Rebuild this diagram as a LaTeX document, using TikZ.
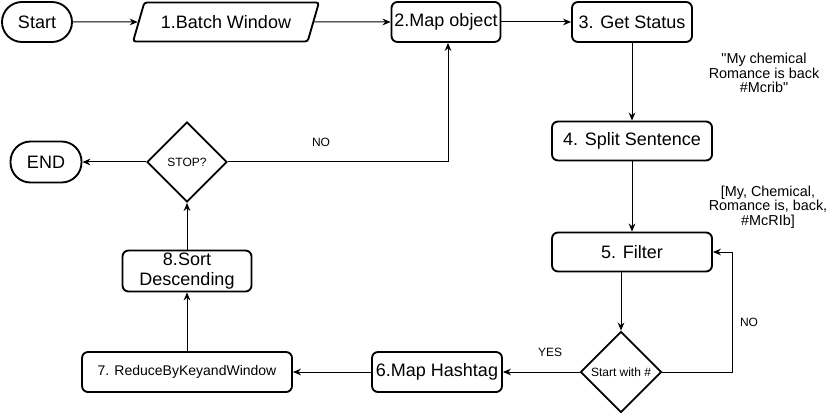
\documentclass[tikz,border=0pt]{standalone}
\usepackage{fontspec}
\setmainfont{Liberation Sans}[Ligatures=TeXOff]
\usetikzlibrary{shapes.geometric,arrows.meta}
\tikzset{
	box/.style={draw, line width=1.4pt, rounded corners=4.5pt, minimum height=30pt, inner sep=1pt, align=center, font=\fontsize{13.5}{15}\selectfont},
	term/.style={box, rounded corners=15pt},
	io/.style={box, trapezium, trapezium left angle=60, trapezium right angle=120, trapezium stretches=true, rounded corners=2pt},
	dec/.style={draw, line width=1.4pt, diamond, aspect=1, inner sep=0pt, font=\fontsize{9}{11}\selectfont},
	lbl/.style={font=\fontsize{9}{11}\selectfont},
	note/.style={align=center, font=\fontsize{10.8}{11}\selectfont},
	arr/.style={-{Stealth[length=6pt,width=5pt]}, line width=0.75pt}
}
\begin{document}
\begin{tikzpicture}[x=0.75pt,y=-0.75pt]
	\useasboundingbox (0,0) rectangle (837,413);
	\node[term, minimum width=52.5pt] (start) at (37,22) {Start};
	\node[io, minimum width=139.5pt, minimum height=29.25pt] (batch) at (226,22) {1.Batch Window};
	\node[box, minimum width=81.75pt] (map) at (446,22) {2.Map object};
	\node[box, minimum width=90pt] (status) at (632,22) {3. Get Status};
	\node[box, minimum width=120pt, minimum height=29.25pt] (split) at (632,141) {4. Split Sentence};
	\node[box, minimum width=120pt, minimum height=29.25pt] (filter) at (632,252) {5. Filter};
	\node[dec, minimum size=60.75pt] (hash) at (621,372) {Start with \#};
	\node[box, minimum width=97.5pt] (maptag) at (437,372) {6.Map Hashtag};
	\node[box, minimum width=157.5pt, font=\fontsize{10.5}{12}\selectfont] (reduce) at (187,372) {7. ReduceByKeyandWindow};
	\node[box, minimum width=96.75pt, minimum height=30.75pt, inner ysep=0pt] (sort) at (187,271) {8.Sort\\Descending};
	\node[dec, minimum size=60pt] (stop) at (187,162) {STOP?};
	\node[term, minimum width=53.25pt, minimum height=30.75pt] (end) at (46,162) {END};
	\node[note] (txt1) at (764,73) {"My chemical\\Romance is back\\\#Mcrib"};
	\node[note] (txt2) at (768,207) {[My, Chemical,\\Romance is, back,\\\#McRIb]};
	\node[lbl] (no1) at (321,142) {NO};
	\node[lbl] (no2) at (749,322) {NO};
	\node[lbl] (yes) at (550,352) {YES};
	\draw[arr] (start.east) -- (batch.west);
	\draw[arr] (batch.east) -- (map.west);
	\draw[arr] (map.east) -- (status.west);
	\draw[arr] (status.south) -- (split.north);
	\draw[arr] (split.south) -- (filter.north);
	\draw[arr] (filter.south -| hash.north) -- (hash.north);
	\draw[arr] (hash.east) -| ([xshift=15pt]filter.east) -- (filter.east);
	\draw[arr] (hash.west) -- (maptag.east);
	\draw[arr] (maptag.west) -- (reduce.east);
	\draw[arr] (reduce.north) -- (sort.south);
	\draw[arr] (sort.north) -- (stop.south);
	\draw[arr] (stop.west) -- (end.east);
	\draw[arr] (stop.east) -| ([xshift=1.5pt]map.south);
\end{tikzpicture}
\end{document}
